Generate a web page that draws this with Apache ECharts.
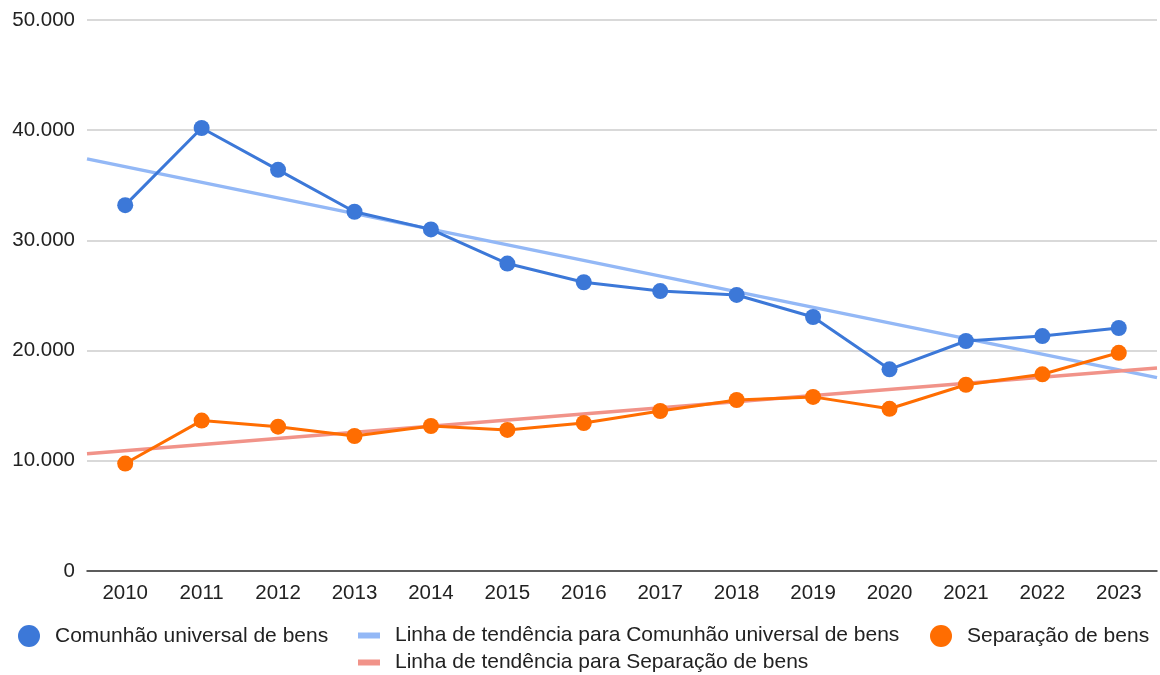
<!DOCTYPE html>
<html>
<head>
<meta charset="utf-8">
<script src="https://cdn.jsdelivr.net/npm/echarts@6/dist/echarts.min.js"></script>
<style>html,body{margin:0;padding:0;background:#fff}#c{width:1160px;height:675px}</style>
</head>
<body>
<div id="c"></div>
<script>
const years = ['2010','2011','2012','2013','2014','2015','2016','2017','2018','2019','2020','2021','2022','2023'];
const comunhao = [33200, 40200, 36400, 32600, 31000, 27900, 26200, 25400, 25050, 23050, 18300, 20870, 21320, 22050];
const separacao = [9750, 13650, 13100, 12250, 13160, 12800, 13430, 14520, 15520, 15800, 14720, 16900, 17850, 19800];
// trend line endpoints (at the plot edges)
const trendComunhao = [[-0.5, 37400], [13.5, 17550]];
const trendSeparacao = [[-0.5, 10650], [13.5, 18420]];
const names = ['Comunhão universal de bens', 'Linha de tendência para Comunhão universal de bens', 'Separação de bens', 'Linha de tendência para Separação de bens'];
const colors = ['#3c78d8', '#93b8f6', '#ff6d01', '#f19389'];

function fmt(v){ return String(v).replace(/\B(?=(\d{3})+(?!\d))/g, '.'); }

const FONT = 'Liberation Sans, Arial, sans-serif';
const legendText = {fontSize: 21, color: '#222', fontFamily: FONT, padding: [0,0,0,10]};

const chart = echarts.init(document.getElementById('c'), null, {renderer: 'canvas'});
chart.setOption({
  animation: false,
  textStyle: {fontFamily: FONT},
  grid: {left: 87, right: 3, top: 20, bottom: 104, containLabel: false},
  legend: [
    {left: 18, top: 625, padding: 0, itemWidth: 22, itemHeight: 22, icon: 'circle', data: [names[0]], textStyle: legendText},
    {left: 358, top: 625, padding: 0, itemWidth: 22, itemHeight: 6, icon: 'rect', data: [names[1]], textStyle: legendText},
    {left: 930, top: 625, padding: 0, itemWidth: 22, itemHeight: 22, icon: 'circle', data: [names[2]], textStyle: legendText},
    {left: 358, top: 652, padding: 0, itemWidth: 22, itemHeight: 6, icon: 'rect', data: [names[3]], textStyle: legendText}
  ],
  xAxis: [
    {type: 'category', data: years, boundaryGap: true,
     axisLine: {lineStyle: {color: '#333', width: 1.5}},
     axisTick: {show: false},
     axisLabel: {color: '#222', fontSize: 20.5, margin: 12, fontFamily: FONT}},
    {type: 'value', min: -0.5, max: 13.5, show: false}
  ],
  yAxis: {type: 'value', min: 0, max: 50000, interval: 10000,
    axisLine: {show: false}, axisTick: {show: false},
    splitLine: {lineStyle: {color: '#cccccc', width: 1.5}},
    axisLabel: {color: '#222', fontSize: 20.5, margin: 12, fontFamily: FONT, formatter: fmt}},
  series: [
    {name: names[1], type: 'line', xAxisIndex: 1, data: trendComunhao, symbol: 'none', z: 1,
     lineStyle: {color: colors[1], width: 3.5}, itemStyle: {color: colors[1]}},
    {name: names[3], type: 'line', xAxisIndex: 1, data: trendSeparacao, symbol: 'none', z: 1,
     lineStyle: {color: colors[3], width: 3.5}, itemStyle: {color: colors[3]}},
    {name: names[0], type: 'line', data: comunhao, symbol: 'circle', symbolSize: 16, z: 3,
     lineStyle: {color: colors[0], width: 3}, itemStyle: {color: colors[0]}},
    {name: names[2], type: 'line', data: separacao, symbol: 'circle', symbolSize: 16, z: 3,
     lineStyle: {color: colors[2], width: 3}, itemStyle: {color: colors[2]}}
  ]
});
</script>
</body>
</html>
